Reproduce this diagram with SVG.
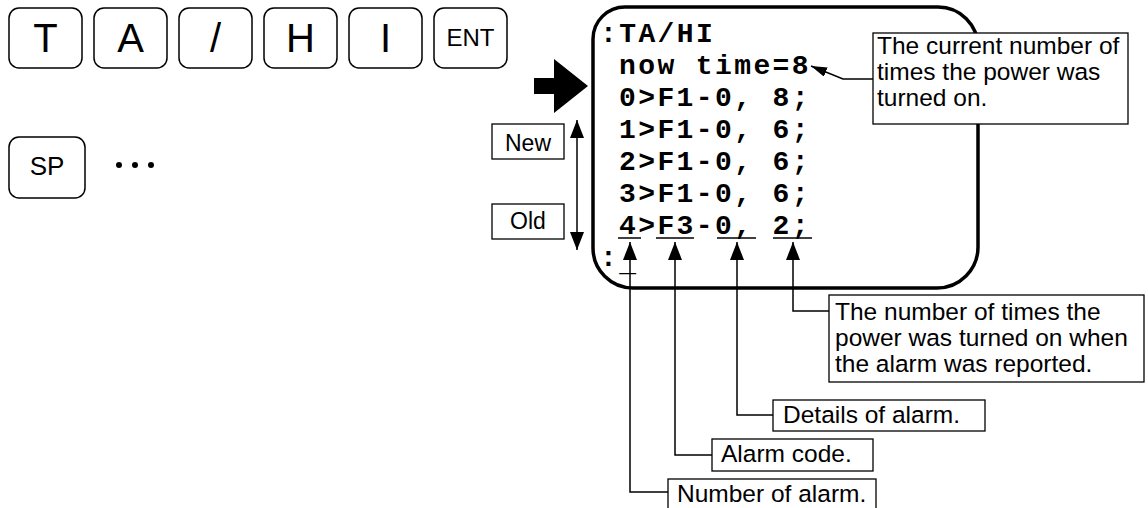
<svg xmlns="http://www.w3.org/2000/svg" width="1148" height="508" viewBox="0 0 1148 508">
<style>
.key{fill:#fff;stroke:#000;stroke-width:1.5}
.kt{font-family:"Liberation Sans",Arial,sans-serif;fill:#000;text-anchor:middle}
.lbl{font-family:"Liberation Sans",Arial,sans-serif;font-size:24.5px;fill:#000}
.box{fill:#fff;stroke:#000;stroke-width:1.3}
.mono{font-family:"Liberation Mono","Courier New",monospace;font-weight:bold;font-size:28px;letter-spacing:2.4px;fill:#000}
.con{fill:none;stroke:#000;stroke-width:1.5}
</style>
<defs>
<marker id="ah" markerUnits="userSpaceOnUse" viewBox="0 0 18 14" refX="18" refY="7" markerWidth="18" markerHeight="14" orient="auto-start-reverse">
<path d="M0,0 L18,7 L0,14 Z" fill="#000"/>
</marker>
<marker id="ahs" markerUnits="userSpaceOnUse" viewBox="0 0 16 10" refX="16" refY="5" markerWidth="16" markerHeight="10" orient="auto">
<path d="M0,0 L16,5 L0,10 Z" fill="#000"/>
</marker>
</defs>

<g id="key-T"><rect class="key" x="9" y="8" width="73" height="60" rx="10"/><text class="kt" x="45.5" y="52" font-size="40">T</text></g>
<g id="key-A"><rect class="key" x="94" y="8" width="73" height="60" rx="10"/><text class="kt" x="130.5" y="52" font-size="40">A</text></g>
<g id="key-slash"><rect class="key" x="179" y="8" width="73" height="60" rx="10"/><text class="kt" x="215.5" y="52" font-size="40">/</text></g>
<g id="key-H"><rect class="key" x="264" y="8" width="73" height="60" rx="10"/><text class="kt" x="300.5" y="52" font-size="40">H</text></g>
<g id="key-I"><rect class="key" x="349" y="8" width="73" height="60" rx="10"/><text class="kt" x="385.5" y="52" font-size="40">I</text></g>
<g id="key-ENT"><rect class="key" x="434" y="8" width="73" height="60" rx="10"/><text class="kt" x="470.5" y="46" font-size="24">ENT</text></g>

<g id="key-SP"><rect class="key" x="9" y="137" width="76" height="61" rx="10"/><text class="kt" x="47" y="175" font-size="26">SP</text></g>
<g id="dots"><circle cx="119" cy="165" r="3"/><circle cx="135" cy="165" r="3"/><circle cx="151" cy="165" r="3"/></g>

<g id="big-arrow"><polygon points="534,78 554,78 554,59 588,86 554,113 554,94 534,94" fill="#000"/></g>

<g id="new"><rect class="box" x="492" y="124" width="72" height="35"/><text class="kt" x="528" y="151" font-size="23">New</text></g>
<g id="old"><rect class="box" x="492" y="204" width="72" height="35"/><text class="kt" x="528" y="229" font-size="23">Old</text></g>

<g id="screen">
<path d="M593,39 A32,32 0 0 1 625,7 H938 A40,40 0 0 1 978,47 V247 A41,41 0 0 1 937,288 H633 A40,40 0 0 1 593,248 Z" fill="#fff" stroke="#000" stroke-width="3.5"/>
<text class="mono" x="600" y="42">:TA/HI</text>
<text class="mono" x="619" y="74">now time=8</text>
<text class="mono" x="619" y="106">0&gt;F1-0, 8;</text>
<text class="mono" x="619" y="138">1&gt;F1-0, 6;</text>
<text class="mono" x="619" y="170">2&gt;F1-0, 6;</text>
<text class="mono" x="619" y="202">3&gt;F1-0, 6;</text>
<text class="mono" x="619" y="234">4&gt;F3-0, 2;</text>
<text class="mono" x="600" y="266">:<tspan dy="5">_</tspan></text>
<g stroke="#000" stroke-width="1.5">
<line x1="618" y1="238" x2="641" y2="238"/>
<line x1="656" y1="238" x2="694" y2="238"/>
<line x1="717" y1="238" x2="756" y2="238"/>
<line x1="773" y1="238" x2="812" y2="238"/>
</g>
</g>

<g id="connectors">
<path class="con" d="M577,250 V120" marker-start="url(#ah)" marker-end="url(#ah)"/>
<path class="con" d="M873,79 H843 L811,66" marker-end="url(#ahs)"/>
<path class="con" d="M829,311 H793 V242" marker-end="url(#ah)"/>
<path class="con" d="M773,415 H737 V242" marker-end="url(#ah)"/>
<path class="con" d="M712,455 H675 V242" marker-end="url(#ah)"/>
<path class="con" d="M668,492 H630 V242" marker-end="url(#ah)"/>
</g>

<g id="callout-now">
<rect class="box" x="873" y="33" width="255" height="91"/>
<text class="lbl" x="877" y="54">The current number of</text>
<text class="lbl" x="877" y="80">times the power was</text>
<text class="lbl" x="877" y="106">turned on.</text>
</g>
<g id="callout-power">
<rect class="box" x="829" y="295" width="315" height="87"/>
<text class="lbl" x="835" y="320">The number of times the</text>
<text class="lbl" x="835" y="346">power was turned on when</text>
<text class="lbl" x="835" y="372">the alarm was reported.</text>
</g>
<g id="callout-details">
<rect class="box" x="773" y="400" width="212" height="31"/>
<text class="lbl" x="783" y="423">Details of alarm.</text>
</g>
<g id="callout-code">
<rect class="box" x="712" y="439" width="161" height="32"/>
<text class="lbl" x="721" y="462">Alarm code.</text>
</g>
<g id="callout-number">
<rect class="box" x="668" y="479" width="208" height="34"/>
<text class="lbl" x="677" y="502">Number of alarm.</text>
</g>
</svg>
